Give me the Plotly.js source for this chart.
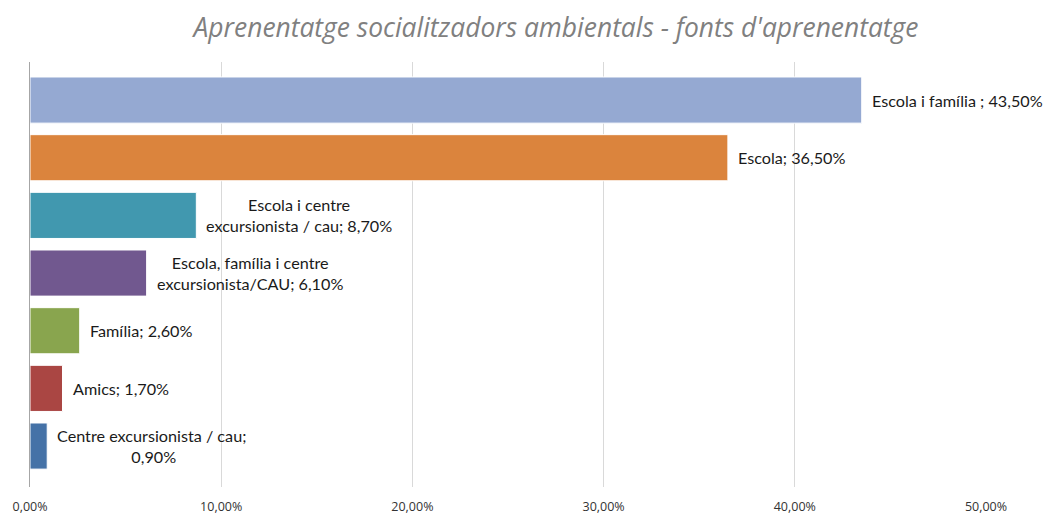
<!DOCTYPE html>
<html>
<head>
<meta charset="utf-8">
<script src="https://cdn.plot.ly/plotly-3.0.1.min.js"></script>
<style>html,body{margin:0;padding:0;background:#fff;}#chart{width:1060px;height:515px;}</style>
</head>
<body>
<div id="chart"></div>
<script>
// Data
var categories = ["Escola i família", "Escola", "Escola i centre excursionista / cau", "Escola, família i centre excursionista/CAU", "Família", "Amics", "Centre excursionista / cau"];
var values = [0.435, 0.365, 0.087, 0.061, 0.026, 0.017, 0.009];
var labelPrefixes = ["Escola i família ;", "Escola;", "Escola i centre<br>excursionista / cau;", "Escola, família i centre<br>excursionista/CAU;", "Família;", "Amics;", "Centre excursionista / cau;<br>"];
var barColors = ["#95a9d2", "#db843d", "#4198af", "#71588f", "#89a54e", "#aa4643", "#4572a7"];
var xTickValues = [0, 0.1, 0.2, 0.3, 0.4, 0.5];

function fmtPct(v) {
  return (v * 100).toFixed(2).replace('.', ',') + '%';
}

var trace = {
  type: 'bar',
  orientation: 'h',
  y: categories,
  x: values,
  marker: {color: barColors, line: {color: '#ffffff', width: 1}},
  width: 0.8,
  hoverinfo: 'none'
};

var annotations = categories.map(function (c, i) {
  return {
    x: values[i], y: c, xref: 'x', yref: 'y',
    text: labelPrefixes[i] + ' ' + fmtPct(values[i]),
    showarrow: false, xanchor: 'left', yanchor: 'middle', xshift: 8,
    align: 'center',
    font: {family: 'Lato, "Open Sans", sans-serif', size: 16.2, color: '#1a1a1a'}
  };
});

var layout = {
  width: 1060, height: 515,
  margin: {l: 30, r: 74, t: 62, b: 28},
  paper_bgcolor: '#ffffff', plot_bgcolor: '#ffffff',
  separators: ',.',
  showlegend: false,
  title: {
    text: "Aprenentatge socialitzadors ambientals - fonts d'aprenentatge",
    x: 0.5245, xref: 'container', xanchor: 'center',
    y: 0.947, yref: 'container', yanchor: 'middle',
    font: {family: '"Open Sans", sans-serif', size: 26.4, color: '#808080', style: 'italic'}
  },
  xaxis: {
    range: [0, 0.5],
    tickvals: xTickValues,
    tickformat: '.2%',
    showgrid: true, gridcolor: '#d9d9d9', gridwidth: 1,
    zeroline: false, showline: false,
    ticks: '', ticklen: 0, ticklabelstandoff: 10,
    tickfont: {family: '"Open Sans", sans-serif', size: 12.5, color: '#333333'},
    fixedrange: true
  },
  yaxis: {
    type: 'category',
    categoryorder: 'array', categoryarray: categories,
    range: [6.71, -0.66],
    showticklabels: false, showgrid: false, zeroline: false,
    showline: true, linecolor: '#a6a6a6', linewidth: 1,
    ticks: '', fixedrange: true
  },
  annotations: annotations
};

Plotly.newPlot('chart', [trace], layout, {displayModeBar: false, staticPlot: true});
</script>
</body>
</html>
